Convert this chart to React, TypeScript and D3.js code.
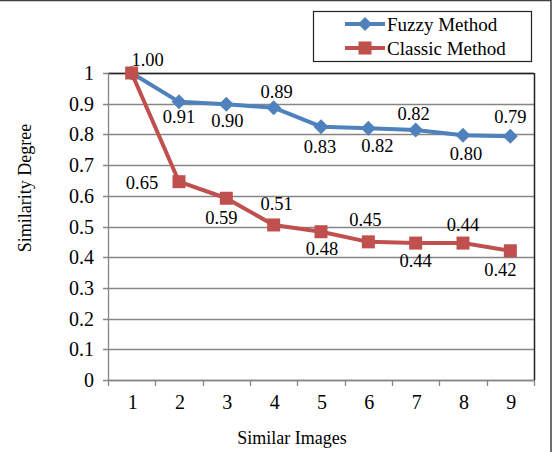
import React from "react";
import * as d3 from "d3";

const categories = ["1", "2", "3", "4", "5", "6", "7", "8", "9"];
const fuzzyValues = [1.0, 0.906, 0.898, 0.887, 0.825, 0.82, 0.814, 0.797, 0.794];
const classicValues = [1.0, 0.646, 0.592, 0.505, 0.483, 0.45, 0.446, 0.446, 0.421];
const fuzzyLabels = ["1.00", "0.91", "0.90", "0.89", "0.83", "0.82", "0.82", "0.80", "0.79"];
const classicLabels = ["", "0.65", "0.59", "0.51", "0.48", "0.45", "0.44", "0.44", "0.42"];
const yTicks = [0, 0.1, 0.2, 0.3, 0.4, 0.5, 0.6, 0.7, 0.8, 0.9, 1];
const seriesNames = ["Fuzzy Method", "Classic Method"];

// label offsets (style)
const fuzzyOff = [[16, -13], [0, 15], [1, 16], [3, -16], [-1, 20], [9, 17], [-2, -17], [3, 18], [0, -20]];
const classicOff = [[0, 0], [-37, 1], [-5, 19], [3, -21], [1, 17], [-3, -22], [0, 17], [0, -19], [-10, 19]];

const BLUE = "#4F81BD";
const RED = "#C0504D";
const GRID = "#868686";
const FONT = "'Liberation Serif', 'Times New Roman', serif";

export default function App() {
  const W = 554, H = 452;
  const left = 108, right = 534, top = 73, bottom = 380;
  const x = d3.scaleBand<string>().domain(categories).range([left, right]).padding(0);
  const y = d3.scaleLinear().domain([0, 1]).range([bottom, top]);
  const cx = (c: string) => (x(c) as number) + x.bandwidth() / 2;
  const line = d3.line<number>().x((_, i) => cx(categories[i])).y((v) => y(v));
  const fmt = d3.format(".1~f");

  const diamond = (px: number, py: number, s: number) =>
    `M${px},${py - s}L${px + s},${py}L${px},${py + s}L${px - s},${py}Z`;

  const bounds = [...categories.map((c) => x(c) as number), right];

  return (
    <svg width={W} height={H} style={{ position: "absolute", left: 0, top: 0, display: "block" }} fontFamily={FONT}>
      <rect x={0} y={0} width={W} height={H} fill="#fff" />
      {/* outer border */}
      <rect x={-5} y={0.5} width={556} height={H + 10} fill="none" stroke="#404040" strokeWidth={1.5} />
      {/* gridlines */}
      {yTicks.map((t) => (
        <line key={"g" + t} x1={left - 5} x2={right} y1={Math.round(y(t)) + 0.5} y2={Math.round(y(t)) + 0.5} stroke={GRID} strokeWidth={1.3} />
      ))}
      {/* plot border top/right */}
      <line x1={left} x2={right} y1={top + 0.5} y2={top + 0.5} stroke="#222" strokeWidth={1.5} />
      <line x1={right + 0.5} x2={right + 0.5} y1={top} y2={bottom} stroke="#222" strokeWidth={1.5} />
      {/* axes */}
      <line x1={left + 0.5} x2={left + 0.5} y1={top} y2={bottom} stroke={GRID} strokeWidth={1.3} />
      <line x1={left} x2={right} y1={bottom + 0.5} y2={bottom + 0.5} stroke={GRID} strokeWidth={1.5} />
      {bounds.map((b, i) => (
        <line key={"xt" + i} x1={Math.round(b) + 0.5} x2={Math.round(b) + 0.5} y1={bottom} y2={bottom + 6} stroke={GRID} strokeWidth={1.3} />
      ))}
      {/* y tick labels */}
      {yTicks.map((t) => (
        <text key={"yl" + t} x={94} y={y(t)} dy="0.35em" textAnchor="end" fontSize={20} fill="#000">
          {fmt(t)}
        </text>
      ))}
      {/* x tick labels */}
      {categories.map((c) => (
        <text key={"xl" + c} x={cx(c) + 1} y={402} dy="0.35em" textAnchor="middle" fontSize={20} fill="#000">
          {c}
        </text>
      ))}
      {/* axis titles */}
      <text x={292} y={438} dy="0.35em" textAnchor="middle" fontSize={18} fill="#000">Similar Images</text>
      <text transform={`translate(25,188) rotate(-90)`} dy="0.35em" textAnchor="middle" fontSize={18} fill="#000">Similarity Degree</text>

      {/* fuzzy series */}
      <path d={line(fuzzyValues) as string} fill="none" stroke={BLUE} strokeWidth={4} strokeLinejoin="round" />
      {fuzzyValues.map((v, i) => (
        <path key={"fd" + i} d={diamond(cx(categories[i]), y(v), 7.5)} fill={BLUE} />
      ))}
      {/* classic series */}
      <path d={line(classicValues) as string} fill="none" stroke={RED} strokeWidth={4} strokeLinejoin="round" />
      {classicValues.map((v, i) => (
        <rect key={"cs" + i} x={cx(categories[i]) - 6.5} y={y(v) - 6.5} width={13} height={13} fill={RED} />
      ))}

      {/* data labels */}
      {fuzzyValues.map((v, i) => (
        <text key={"fl" + i} x={cx(categories[i]) + fuzzyOff[i][0]} y={y(v) + fuzzyOff[i][1]} dy="0.35em" textAnchor="middle" fontSize={18.5} fill="#000">
          {fuzzyLabels[i]}
        </text>
      ))}
      {classicValues.map((v, i) =>
        classicLabels[i] ? (
          <text key={"cl" + i} x={cx(categories[i]) + classicOff[i][0]} y={y(v) + classicOff[i][1]} dy="0.35em" textAnchor="middle" fontSize={18.5} fill="#000">
            {classicLabels[i]}
          </text>
        ) : null
      )}

      {/* legend */}
      <rect x={313.5} y={11.5} width={218} height={50} fill="#fff" stroke="#222" strokeWidth={1.2} />
      {seriesNames.map((n, i) => {
        const ly = 24 + i * 24;
        const col = i === 0 ? BLUE : RED;
        return (
          <g key={"lg" + i}>
            <line x1={345} x2={385} y1={ly} y2={ly} stroke={col} strokeWidth={4} />
            {i === 0 ? (
              <path d={diamond(365, ly, 7)} fill={col} />
            ) : (
              <rect x={358.5} y={ly - 6.5} width={13} height={13} fill={col} />
            )}
            <text x={387} y={ly} dy="0.35em" fontSize={19} fill="#000">{n}</text>
          </g>
        );
      })}
    </svg>
  );
}
